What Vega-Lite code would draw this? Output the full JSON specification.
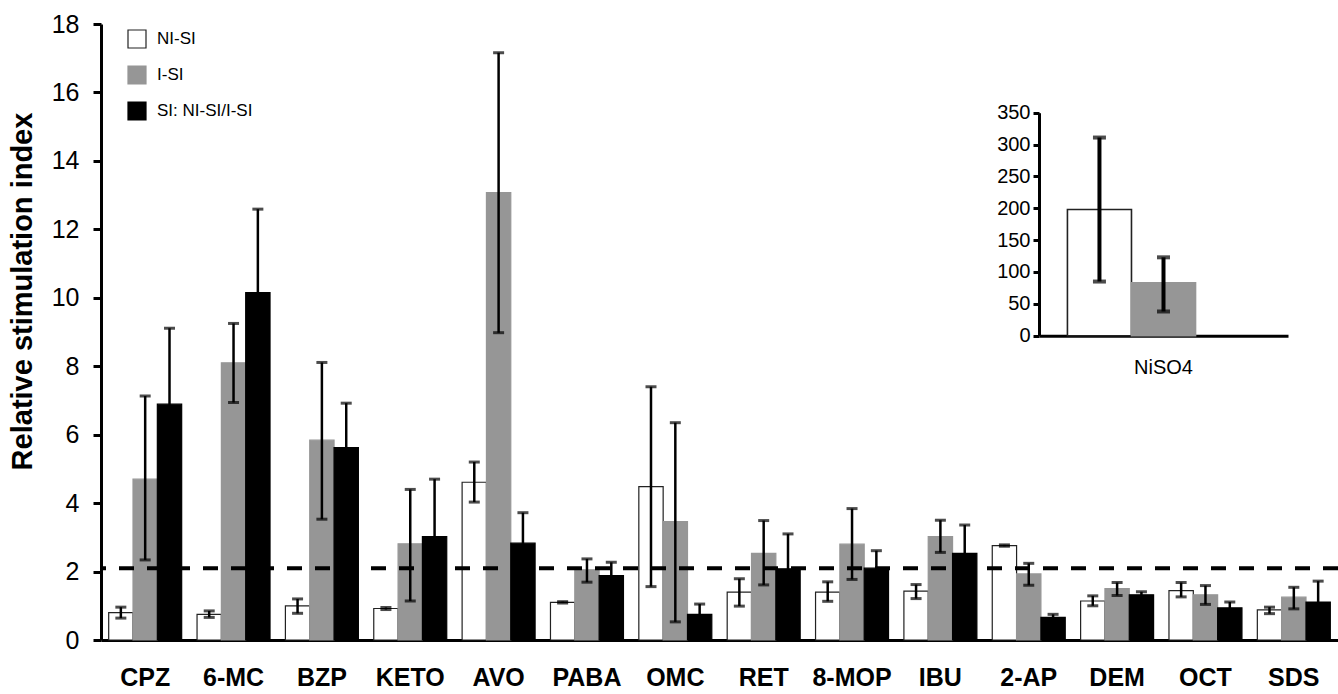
{
  "$schema": "https://vega.github.io/schema/vega-lite/v6.json",
  "width": 1237,
  "height": 616,
  "autosize": {"type": "none"},
  "padding": {"left": 101, "top": 24, "right": 0, "bottom": 54},
  "background": "white",
  "config": {
    "view": {"stroke": null},
    "font": "Liberation Sans",
    "axis": {"grid": false, "domainColor": "black", "tickColor": "black", "labelColor": "black", "titleColor": "black", "labelFont": "Liberation Sans", "titleFont": "Liberation Sans"},
    "legend": {"labelFont": "Liberation Sans", "labelColor": "black"}
  },
  "datasets": {
    "main": [
      {"cmp": "CPZ", "s": "NI-SI", "v": 0.8, "lo": 0.64, "hi": 0.96},
      {"cmp": "CPZ", "s": "I-SI", "v": 4.7, "lo": 2.34, "hi": 7.13},
      {"cmp": "CPZ", "s": "SI: NI-SI/I-SI", "v": 6.89, "lo": 4.67, "hi": 9.11},
      {"cmp": "6-MC", "s": "NI-SI", "v": 0.75, "lo": 0.66, "hi": 0.85},
      {"cmp": "6-MC", "s": "I-SI", "v": 8.1, "lo": 6.94, "hi": 9.25},
      {"cmp": "6-MC", "s": "SI: NI-SI/I-SI", "v": 10.15, "lo": 7.71, "hi": 12.59},
      {"cmp": "BZP", "s": "NI-SI", "v": 1.0, "lo": 0.78, "hi": 1.2},
      {"cmp": "BZP", "s": "I-SI", "v": 5.84, "lo": 3.53, "hi": 8.11},
      {"cmp": "BZP", "s": "SI: NI-SI/I-SI", "v": 5.62, "lo": 4.32, "hi": 6.92},
      {"cmp": "KETO", "s": "NI-SI", "v": 0.92, "lo": 0.89, "hi": 0.95},
      {"cmp": "KETO", "s": "I-SI", "v": 2.81, "lo": 1.14, "hi": 4.4},
      {"cmp": "KETO", "s": "SI: NI-SI/I-SI", "v": 3.02, "lo": 1.34, "hi": 4.7},
      {"cmp": "AVO", "s": "NI-SI", "v": 4.61, "lo": 4.03, "hi": 5.2},
      {"cmp": "AVO", "s": "I-SI", "v": 13.07, "lo": 8.98, "hi": 17.16},
      {"cmp": "AVO", "s": "SI: NI-SI/I-SI", "v": 2.83, "lo": 1.94, "hi": 3.72},
      {"cmp": "PABA", "s": "NI-SI", "v": 1.1, "lo": 1.08, "hi": 1.12},
      {"cmp": "PABA", "s": "I-SI", "v": 2.05, "lo": 1.69, "hi": 2.37},
      {"cmp": "PABA", "s": "SI: NI-SI/I-SI", "v": 1.88, "lo": 1.49, "hi": 2.27},
      {"cmp": "OMC", "s": "NI-SI", "v": 4.48, "lo": 1.56, "hi": 7.4},
      {"cmp": "OMC", "s": "I-SI", "v": 3.46, "lo": 0.53, "hi": 6.35},
      {"cmp": "OMC", "s": "SI: NI-SI/I-SI", "v": 0.75, "lo": 0.45, "hi": 1.05},
      {"cmp": "RET", "s": "NI-SI", "v": 1.4, "lo": 0.99, "hi": 1.79},
      {"cmp": "RET", "s": "I-SI", "v": 2.53, "lo": 1.61, "hi": 3.49},
      {"cmp": "RET", "s": "SI: NI-SI/I-SI", "v": 2.08, "lo": 1.06, "hi": 3.1},
      {"cmp": "8-MOP", "s": "NI-SI", "v": 1.4, "lo": 1.13, "hi": 1.7},
      {"cmp": "8-MOP", "s": "I-SI", "v": 2.8, "lo": 1.77, "hi": 3.84},
      {"cmp": "8-MOP", "s": "SI: NI-SI/I-SI", "v": 2.1, "lo": 1.59, "hi": 2.61},
      {"cmp": "IBU", "s": "NI-SI", "v": 1.43, "lo": 1.21, "hi": 1.62},
      {"cmp": "IBU", "s": "I-SI", "v": 3.02, "lo": 2.56, "hi": 3.5},
      {"cmp": "IBU", "s": "SI: NI-SI/I-SI", "v": 2.53, "lo": 1.7, "hi": 3.36},
      {"cmp": "2-AP", "s": "NI-SI", "v": 2.76, "lo": 2.74, "hi": 2.78},
      {"cmp": "2-AP", "s": "I-SI", "v": 1.93, "lo": 1.6, "hi": 2.24},
      {"cmp": "2-AP", "s": "SI: NI-SI/I-SI", "v": 0.66, "lo": 0.57, "hi": 0.75},
      {"cmp": "DEM", "s": "NI-SI", "v": 1.14, "lo": 1.0, "hi": 1.29},
      {"cmp": "DEM", "s": "I-SI", "v": 1.5, "lo": 1.3, "hi": 1.68},
      {"cmp": "DEM", "s": "SI: NI-SI/I-SI", "v": 1.32, "lo": 1.23, "hi": 1.41},
      {"cmp": "OCT", "s": "NI-SI", "v": 1.44, "lo": 1.26, "hi": 1.68},
      {"cmp": "OCT", "s": "I-SI", "v": 1.32, "lo": 1.04, "hi": 1.59},
      {"cmp": "OCT", "s": "SI: NI-SI/I-SI", "v": 0.94, "lo": 0.77, "hi": 1.11},
      {"cmp": "SDS", "s": "NI-SI", "v": 0.88, "lo": 0.77, "hi": 0.96},
      {"cmp": "SDS", "s": "I-SI", "v": 1.25, "lo": 0.91, "hi": 1.54},
      {"cmp": "SDS", "s": "SI: NI-SI/I-SI", "v": 1.11, "lo": 0.5, "hi": 1.72}
    ],
    "inset": [
      {"c": "NiSO4", "s": "NI-SI", "v": 198, "lo": 85, "hi": 311},
      {"c": "NiSO4", "s": "I-SI", "v": 83, "lo": 38, "hi": 123}
    ],
    "threshold": [{"t": 2.1}]
  },
  "layer": [
    {
      "data": {"name": "main"},
      "layer": [
        {
          "mark": {"type": "bar", "strokeWidth": 1.2},
          "encoding": {
            "x": {"field": "cmp", "type": "nominal",
              "scale": {"domain": ["CPZ", "6-MC", "BZP", "KETO", "AVO", "PABA", "OMC", "RET", "8-MOP", "IBU", "2-AP", "DEM", "OCT", "SDS"], "paddingInner": 0.174, "paddingOuter": 0.087},
              "axis": {"title": null, "orient": "bottom", "ticks": false, "domainWidth": 3, "labelFontSize": 25, "labelFontWeight": "bold", "labelPadding": 25, "labelAngle": 0}},
            "xOffset": {"field": "s", "type": "nominal", "scale": {"domain": ["NI-SI", "I-SI", "SI: NI-SI/I-SI"], "paddingInner": 0, "paddingOuter": 0}},
            "y": {"field": "v", "type": "quantitative", "title": "Relative stimulation index",
              "scale": {"domain": [0, 18], "nice": false},
              "axis": {"orient": "left", "values": [0, 2, 4, 6, 8, 10, 12, 14, 16, 18], "tickSize": 8, "tickWidth": 3, "domainWidth": 3, "labelFontSize": 25, "labelPadding": 14, "titleFontSize": 29, "titleFontWeight": "bold", "titleAngle": 270, "titleX": -79, "titleY": 267, "titleAlign": "center", "titleBaseline": "middle"}},
            "fill": {"field": "s", "type": "nominal",
              "scale": {"domain": ["NI-SI", "I-SI", "SI: NI-SI/I-SI"], "range": ["#ffffff", "#969696", "#000000"]},
              "legend": {"title": null, "orient": "none", "legendX": 26, "legendY": 5, "symbolType": "square", "symbolSize": 324, "symbolStrokeWidth": 1.2, "labelFontSize": 17, "labelOffset": 10, "rowPadding": 12, "padding": 0}},
            "stroke": {"field": "s", "type": "nominal",
              "scale": {"domain": ["NI-SI", "I-SI", "SI: NI-SI/I-SI"], "range": ["#222222", "#969696", "#000000"]},
              "legend": {"title": null, "orient": "none", "legendX": 26, "legendY": 5, "symbolType": "square", "symbolSize": 324, "symbolStrokeWidth": 1.2, "labelFontSize": 17, "labelOffset": 10, "rowPadding": 12, "padding": 0}}
          }
        },
        {
          "mark": {"type": "rule", "strokeWidth": 2.5, "color": "black"},
          "encoding": {
            "x": {"field": "cmp", "type": "nominal"},
            "xOffset": {"field": "s", "type": "nominal"},
            "y": {"field": "lo", "type": "quantitative", "title": "Relative stimulation index"},
            "y2": {"field": "hi"}
          }
        },
        {
          "mark": {"type": "tick", "size": 11, "thickness": 3, "color": "black"},
          "encoding": {
            "x": {"field": "cmp", "type": "nominal"},
            "xOffset": {"field": "s", "type": "nominal"},
            "y": {"field": "lo", "type": "quantitative", "title": "Relative stimulation index"}
          }
        },
        {
          "mark": {"type": "tick", "size": 11, "thickness": 3, "color": "black"},
          "encoding": {
            "x": {"field": "cmp", "type": "nominal"},
            "xOffset": {"field": "s", "type": "nominal"},
            "y": {"field": "hi", "type": "quantitative", "title": "Relative stimulation index"}
          }
        },
        {
          "data": {"name": "threshold"},
          "mark": {"type": "rule", "strokeDash": [15, 13], "strokeWidth": 4, "color": "black"},
          "encoding": {
            "y": {"field": "t", "type": "quantitative", "title": "Relative stimulation index"}
          }
        }
      ]
    },
    {
      "data": {"name": "inset"},
      "layer": [
        {
          "mark": {"type": "bar", "strokeWidth": 1.6},
          "encoding": {
            "x": {"field": "c", "type": "nominal",
              "scale": {"range": [938, 1187], "paddingInner": 0, "paddingOuter": 0.148},
              "axis": {"orient": "bottom", "offset": -304.3, "title": null, "ticks": false, "domainWidth": 3, "labelFontSize": 20, "labelPadding": 22, "labelAngle": 0}},
            "xOffset": {"field": "s", "type": "nominal", "scale": {"domain": ["NI-SI", "I-SI", "SI: NI-SI/I-SI"], "paddingInner": 0, "paddingOuter": 0}},
            "y": {"field": "v", "type": "quantitative", "title": null,
              "scale": {"domain": [0, 350], "range": [311.7, 88.7], "nice": false},
              "axis": {"orient": "left", "offset": -938, "values": [0, 50, 100, 150, 200, 250, 300, 350], "tickSize": 6, "tickWidth": 3, "domainWidth": 3, "labelFontSize": 20, "labelPadding": 3}},
            "fill": {"field": "s", "type": "nominal",
              "scale": {"domain": ["NI-SI", "I-SI", "SI: NI-SI/I-SI"], "range": ["#ffffff", "#969696", "#000000"]}},
            "stroke": {"field": "s", "type": "nominal",
              "scale": {"domain": ["NI-SI", "I-SI", "SI: NI-SI/I-SI"], "range": ["#222222", "#969696", "#000000"]}}
          }
        },
        {
          "mark": {"type": "rule", "strokeWidth": 4, "color": "black"},
          "encoding": {
            "x": {"field": "c", "type": "nominal"},
            "xOffset": {"field": "s", "type": "nominal"},
            "y": {"field": "lo", "type": "quantitative", "title": null},
            "y2": {"field": "hi"}
          }
        },
        {
          "mark": {"type": "tick", "size": 13, "thickness": 4, "color": "black"},
          "encoding": {
            "x": {"field": "c", "type": "nominal"},
            "xOffset": {"field": "s", "type": "nominal"},
            "y": {"field": "lo", "type": "quantitative", "title": null}
          }
        },
        {
          "mark": {"type": "tick", "size": 13, "thickness": 4, "color": "black"},
          "encoding": {
            "x": {"field": "c", "type": "nominal"},
            "xOffset": {"field": "s", "type": "nominal"},
            "y": {"field": "hi", "type": "quantitative", "title": null}
          }
        }
      ]
    }
  ],
  "resolve": {
    "scale": {"x": "independent", "y": "independent", "xOffset": "independent"},
    "axis": {"x": "independent", "y": "independent"}
  }
}
